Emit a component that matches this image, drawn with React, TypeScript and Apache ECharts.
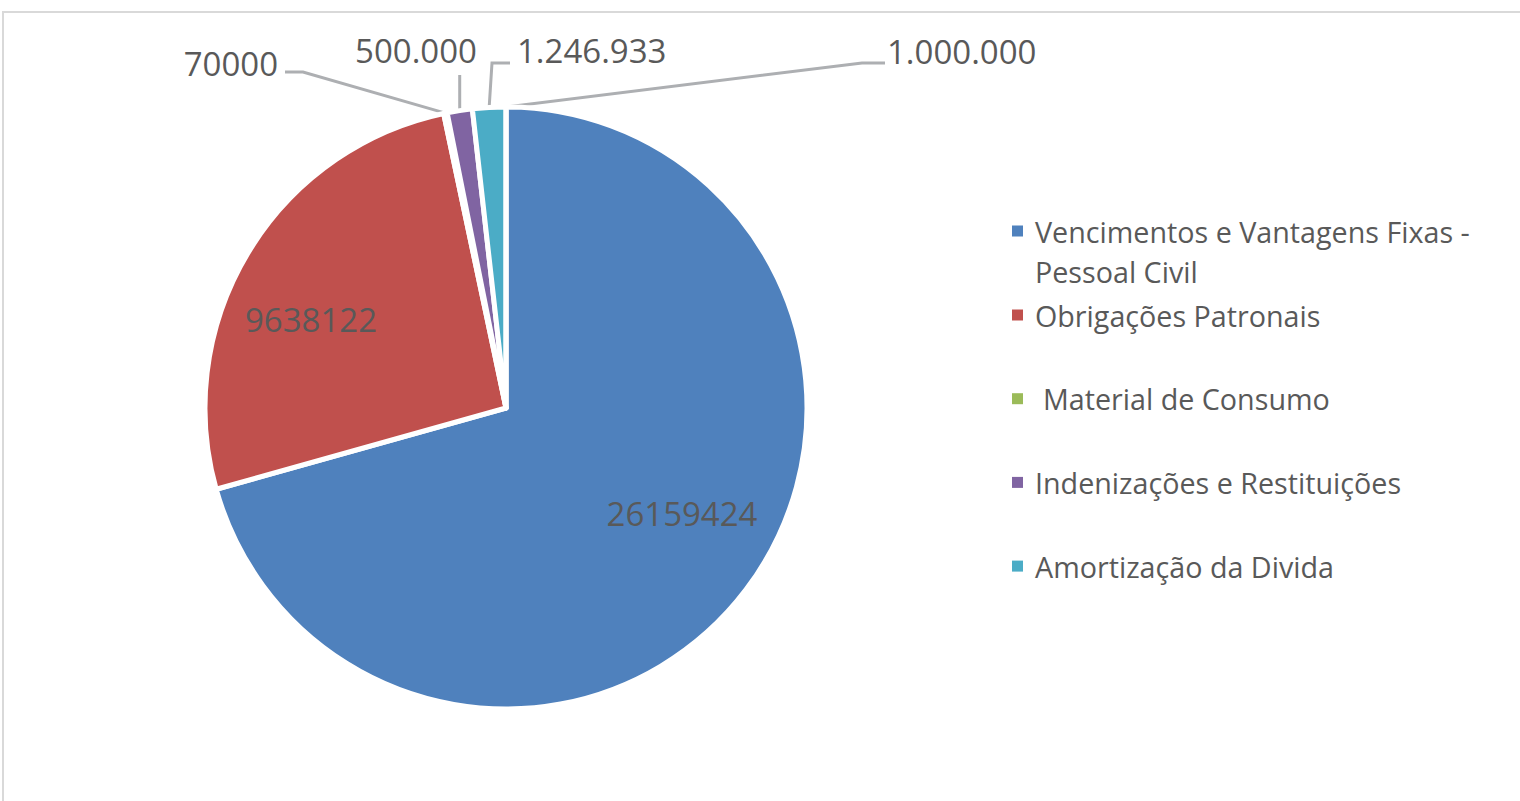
import React, { useEffect, useRef } from 'react';
import * as echarts from 'echarts';

// ---- data ----
const categories = [
  'Vencimentos e Vantagens Fixas - Pessoal Civil',
  'Obrigações Patronais',
  'Material de Consumo',
  'Indenizações e Restituições',
  'Amortização da Divida',
  'Outros',
];
// slice sizes (angles)
const values = [26159424, 9638122, 70000, 500000, 660000, 0];
// data label texts as printed on the chart
const labelTexts = ['26159424', '9638122', '70000', '500.000', '1.246.933', '1.000.000'];
const legendNames = categories.slice(0, 5);

// ---- styles / layout ----
const colors = ['#4F81BD', '#C0504D', '#9BBB59', '#8064A2', '#4BACC6', '#F79646'];
const TEXT = '#595959';
const FONT = 'Open Sans';

type Place = { x: number; y: number; align: string; line?: number[][] | 'up'; lineTop?: number };
const labelPlacement: Place[] = [
  { x: 682, y: 513, align: 'center' },
  { x: 311, y: 319, align: 'center' },
  { x: 278, y: 63, align: 'right', line: [[303, 72], [285, 72]] },
  { x: 416, y: 50, align: 'center', line: 'up', lineTop: 75 },
  { x: 517, y: 50, align: 'left', line: [[492, 63], [510, 63]] },
  { x: 887, y: 51, align: 'left', line: [[862, 63], [885, 63]] },
];

export default function App() {
  const ref = useRef<HTMLDivElement>(null);
  useEffect(() => {
    if (!ref.current) return;
    const chart = echarts.init(ref.current, null, { renderer: 'svg' });
    const data = values.map((v, i) => {
      const item: any = { name: categories[i], value: v, itemStyle: { color: colors[i] } };
      if (i < 2) {
        item.label = { position: 'inside' };
        item.labelLine = { show: false };
      }
      return item;
    });
    const legendText = { fontFamily: FONT, fontSize: 28.7, lineHeight: 40, color: TEXT, padding: [0, 0, 0, 7] };
    chart.setOption({
      animation: false,
      backgroundColor: '#ffffff',
      textStyle: { fontFamily: FONT },
      graphic: [
        {
          type: 'rect',
          silent: true,
          shape: { x: 3, y: 12, width: 1600, height: 900 },
          style: { fill: 'none', stroke: '#D9D9D9', lineWidth: 2 },
        },
      ],
      legend: [
        {
          orient: 'vertical',
          left: 1012,
          top: 211,
          padding: 0,
          itemWidth: 11,
          itemHeight: 51,
          selectedMode: false,
          itemStyle: { borderWidth: 0 },
          data: [{ name: legendNames[0], icon: 'path://M0,0H11V11H0Z M0,50.99H0.01V51H0Z' }],
          formatter: (n: string) => n.replace('- ', '-\n'),
          textStyle: legendText,
        },
        {
          orient: 'vertical',
          left: 1012,
          top: 295,
          padding: 0,
          itemWidth: 11,
          itemHeight: 11,
          itemGap: 43.7,
          icon: 'rect',
          selectedMode: false,
          itemStyle: { borderWidth: 0 },
          data: legendNames.slice(1).map((n, i) =>
            i === 1 ? { name: n, textStyle: { padding: [0, 0, 0, 15] } } : { name: n }
          ),
          textStyle: legendText,
        },
      ],
      series: [
        {
          type: 'pie',
          center: [506, 408],
          radius: 301,
          startAngle: 90,
          clockwise: true,
          avoidLabelOverlap: false,
          minShowLabelAngle: 0,
          silent: true,
          emphasis: { disabled: true },
          itemStyle: { borderColor: '#ffffff', borderWidth: 5 },
          label: {
            show: true,
            position: 'outside',
            formatter: (p: any) => labelTexts[p.dataIndex],
            fontFamily: FONT,
            fontSize: 33,
            color: TEXT,
          },
          labelLine: {
            show: true,
            length: 10,
            length2: 10,
            smooth: false,
            lineStyle: { color: '#ADAFB2', width: 3 },
          },
          labelLayout: (p: any) => {
            const pl = labelPlacement[p.dataIndex];
            const res: any = { x: pl.x, y: pl.y, align: pl.align, verticalAlign: 'middle' };
            const pts = p.labelLinePoints;
            if (pl.line && pts && pts.length) {
              const s = pts[0];
              res.labelLinePoints =
                pl.line === 'up' ? [s, [s[0], pl.lineTop]] : [s, ...(pl.line as number[][])];
            }
            return res;
          },
          data,
        },
      ],
    });
    return () => chart.dispose();
  }, []);
  return (
    <div
      ref={ref}
      style={{ position: 'fixed', left: 0, top: 0, width: 1520, height: 801, background: '#fff' }}
    />
  );
}
